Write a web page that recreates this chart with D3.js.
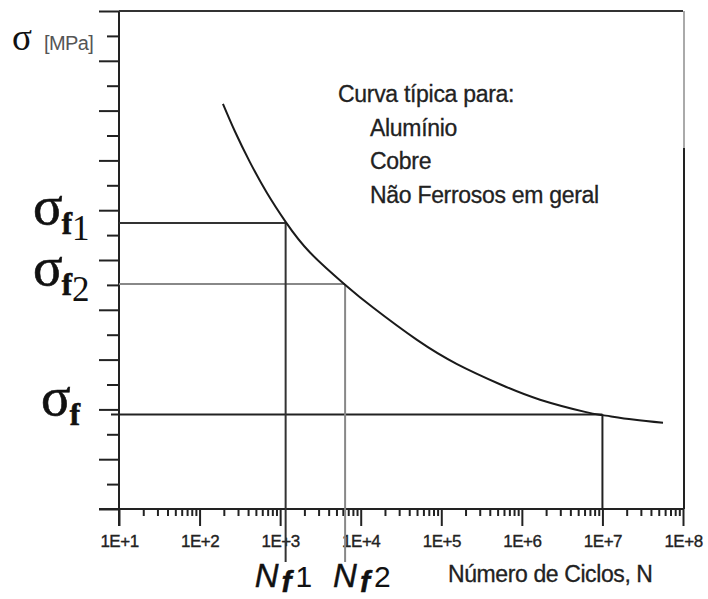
<!DOCTYPE html>
<html>
<head>
<meta charset="utf-8">
<script src="https://cdn.jsdelivr.net/npm/d3@7"></script>
<style>
  body { margin: 0; background: #fff; }
  svg { display: block; font-family: Arial, "Liberation Sans", sans-serif; }
  .tick text { font-size: 17px; fill: #222; stroke: #222; stroke-width: 0.35; letter-spacing: -0.5px; }
  .tick line { stroke: #222; stroke-width: 2; }
  .label { fill: #222; stroke: #222; stroke-width: 0.3; }
</style>
</head>
<body>
<div id="chart"></div>
<script>
// decades on the N axis and their labels
var decades = [1e1, 1e2, 1e3, 1e4, 1e5, 1e6, 1e7, 1e8];
var xTickLabels = ["1E+1", "1E+2", "1E+3", "1E+4", "1E+5", "1E+6", "1E+7", "1E+8"];

// stress axis has no numbers, only ticks (arbitrary units 0..20)
var yTicks = d3.range(0, 21);

// S-N curve
var curveN = [195, 275, 423, 687, 1182, 2348, 6383, 14210, 49950, 156700, 535500, 1.68e6, 6.08e6, 1.0e7, 2.40e7, 5.65e7];
var curveS = [16.27, 15.16, 13.92, 12.69, 11.51, 10.30, 9.01, 8.09, 6.79, 5.82, 5.01, 4.39, 3.90, 3.77, 3.59, 3.46];

// reference points (sigma_f1, sigma_f2, sigma_f)
var refN = [1170, 6400, 1e7];
var refS = [11.49, 9.04, 3.80];
var refSub = ["1", "2", ""];
var refColor = ["#333", "#888", "#222"];

var legendLines = ["Curva típica para:", "Alumínio", "Cobre", "Não Ferrosos em geral"];

var width = 708, height = 599;

var x = d3.scaleLog().domain([1e1, 1e8]).range([119, 683]);
var y = d3.scaleLinear().domain([0, 20]).range([509, 11]);

var svg = d3.select('#chart').append('svg')
  .attr('width', width)
  .attr('height', height);

// minor log ticks 2..9 in each decade
var minor = [];
decades.slice(0, -1).forEach(d => {
  d3.range(2, 10).forEach(k => minor.push(d * k));
});

svg.append('g')
  .attr('transform', 'translate(0,' + y(0) + ')')
  .call(d3.axisBottom(x).tickValues(minor).tickSize(7).tickFormat(''))
  .call(g => g.select('.domain').remove());

svg.append('g')
  .attr('transform', 'translate(0,' + y(0) + ')')
  .call(d3.axisBottom(x).tickValues(decades).tickSize(17).tickPadding(9)
    .tickFormat((d, i) => xTickLabels[i]))
  .call(g => g.select('.domain').remove());

// y ticks: long on even, short on odd
svg.append('g')
  .attr('transform', 'translate(' + x(1e1) + ',0)')
  .call(d3.axisLeft(y).tickValues(yTicks.filter(d => d % 2 == 0)).tickSize(20).tickFormat(''))
  .call(g => g.select('.domain').remove());

svg.append('g')
  .attr('transform', 'translate(' + x(1e1) + ',0)')
  .call(d3.axisLeft(y).tickValues(yTicks.filter(d => d % 2 == 1)).tickSize(12).tickFormat(''))
  .call(g => g.select('.domain').remove());

// axis lines and frame
var frame = svg.append('g').attr('fill', 'none').attr('stroke-width', 2);
frame.append('line')
  .attr('x1', x(1e1) - 20).attr('x2', x(1e8))
  .attr('y1', y(0)).attr('y2', y(0))
  .attr('stroke', '#222');
frame.append('line')
  .attr('x1', x(1e1)).attr('x2', x(1e1))
  .attr('y1', y(20)).attr('y2', y(0) + 17)
  .attr('stroke', '#222');
frame.append('line')
  .attr('x1', x(1e1)).attr('x2', x(1e8))
  .attr('y1', y(20)).attr('y2', y(20))
  .attr('stroke', '#333');
frame.append('line')
  .attr('x1', x(1e8) + 1).attr('x2', x(1e8) + 1)
  .attr('y1', y(20)).attr('y2', y(14.5))
  .attr('stroke', '#aaa');
frame.append('line')
  .attr('x1', x(1e8) + 1).attr('x2', x(1e8) + 1)
  .attr('y1', y(14.5)).attr('y2', y(0))
  .attr('stroke', '#222');

// reference lines
var refs = refN.map((n, i) => ({n: n, s: refS[i], sub: refSub[i], color: refColor[i]}));

var refG = svg.append('g').attr('stroke-width', 2).attr('fill', 'none');
refG.selectAll('line.h')
  .data(refs)
  .enter().append('line')
    .attr('class', 'h')
    .attr('x1', (d, i) => i == 2 ? x(1e1) - 8 : x(1e1))
    .attr('x2', d => x(d.n))
    .attr('y1', d => y(d.s))
    .attr('y2', d => y(d.s))
    .attr('stroke', d => d.color);
refG.selectAll('line.v')
  .data(refs)
  .enter().append('line')
    .attr('class', 'v')
    .attr('x1', d => x(d.n))
    .attr('x2', d => x(d.n))
    .attr('y1', d => y(d.s))
    .attr('y2', (d, i) => i == 2 ? y(0) : y(0) + 53)
    .attr('stroke', d => d.color);

// the curve
var line = d3.line()
  .x((d, i) => x(curveN[i]))
  .y(d => y(d))
  .curve(d3.curveNatural);

svg.append('path')
  .datum(curveS)
  .attr('d', line)
  .attr('fill', 'none')
  .attr('stroke', '#1a1a1a')
  .attr('stroke-width', 2);

// sigma labels on the left
var sigmaX = [33, 33, 41];
refs.forEach((d, i) => {
  var t = svg.append('text')
    .attr('x', sigmaX[i])
    .attr('y', y(d.s) + 1)
    .attr('font-family', '"Times New Roman", "Liberation Serif", serif')
    .attr('fill', '#111')
    .attr('stroke', '#111')
    .attr('stroke-width', 0.6);
  t.append('tspan').attr('font-size', 55).text('σ');
  t.append('tspan').attr('font-size', 31).attr('font-weight', 'bold').attr('dx', -1).attr('dy', 10).text('f');
  if (d.sub) t.append('tspan').attr('font-size', 35).attr('stroke-width', 0).attr('dy', 6).text(d.sub);
});

// sigma [MPa] at top
var st = svg.append('text').attr('x', 12).attr('y', 50);
st.append('tspan')
  .attr('font-family', '"Times New Roman", "Liberation Serif", serif')
  .attr('font-size', 37).attr('fill', '#111').text('σ');
st.append('tspan')
  .attr('dx', 12).attr('font-size', 20).attr('fill', '#555')
  .attr('letter-spacing', -0.6).text('[MPa]');

// N labels below the axis (the line runs through N of N_f2)
var nLabelShift = [-31, -12];
refs.slice(0, 2).forEach((d, i) => {
  var t = svg.append('text')
    .attr('x', x(d.n) + nLabelShift[i])
    .attr('y', 587)
    .attr('fill', '#111')
    .attr('stroke', '#111')
    .attr('stroke-width', 0.4);
  t.append('tspan').attr('font-size', 33).attr('font-style', 'italic').text('N');
  t.append('tspan').attr('font-size', 30).attr('font-style', 'italic').attr('font-weight', 'bold')
    .attr('dx', 3).attr('dy', 5).text('f');
  t.append('tspan').attr('font-size', 30).attr('stroke-width', 0).attr('dx', 4).attr('dy', -5).text(d.sub);
});

svg.append('text')
  .attr('class', 'label')
  .attr('x', 448)
  .attr('y', 582)
  .attr('font-size', 23)
  .attr('letter-spacing', -0.4)
  .text('Número de Ciclos, N');

// legend text
svg.append('g')
  .selectAll('text')
  .data(legendLines)
  .enter().append('text')
    .attr('class', 'label')
    .attr('x', (d, i) => i == 0 ? 338 : 370)
    .attr('y', (d, i) => 102 + i * 33.5)
    .attr('font-size', 23)
    .attr('letter-spacing', -0.3)
    .text(d => d);
</script>
</body>
</html>
